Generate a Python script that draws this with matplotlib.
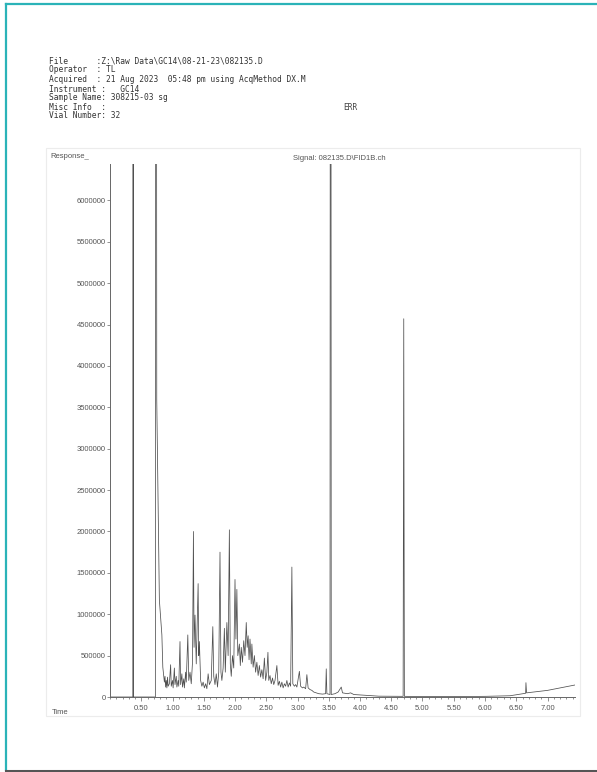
import matplotlib
matplotlib.use("Agg")
import matplotlib.pyplot as plt
from matplotlib.lines import Line2D
from matplotlib.patches import Rectangle

W, H = 597, 772

# chromatogram trace (time in min, response in counts/1000)
time_min = [
    0.00, 0.36, 0.365, 0.37, 0.375, 0.72, 0.726, 0.73, 0.737, 0.748, 0.79, 0.83, 0.845,
    0.855, 0.87, 0.88, 0.89, 0.90, 0.91, 0.92, 0.93, 0.95, 0.97, 0.98, 1.00, 1.01,
    1.03, 1.04, 1.06, 1.07, 1.09, 1.10, 1.12, 1.13, 1.15, 1.16, 1.18, 1.19, 1.21,
    1.22, 1.245, 1.26, 1.28, 1.30, 1.32, 1.335, 1.345, 1.36, 1.38, 1.41, 1.42, 1.43,
    1.45, 1.47, 1.49, 1.51, 1.53, 1.55, 1.57, 1.59, 1.62, 1.645, 1.66, 1.68, 1.70,
    1.72, 1.74, 1.76, 1.775, 1.79, 1.81, 1.83, 1.845, 1.87, 1.89, 1.91, 1.925, 1.94,
    1.96, 1.98, 2.00, 2.015, 2.03, 2.045, 2.07, 2.085, 2.10, 2.12, 2.14, 2.16, 2.18,
    2.195, 2.21, 2.225, 2.24, 2.26, 2.27, 2.29, 2.31, 2.33, 2.35, 2.37, 2.39, 2.41,
    2.43, 2.45, 2.47, 2.49, 2.51, 2.527, 2.54, 2.56, 2.58, 2.60, 2.62, 2.64, 2.67,
    2.69, 2.71, 2.73, 2.75, 2.77, 2.79, 2.81, 2.83, 2.85, 2.87, 2.89, 2.91, 2.925,
    2.95, 2.97, 2.99, 3.03, 3.05, 3.08, 3.10, 3.13, 3.15, 3.17, 3.20, 3.23, 3.26,
    3.30, 3.34, 3.40, 3.45, 3.46, 3.47, 3.52, 3.53, 3.54, 3.60, 3.65, 3.70, 3.72,
    3.80, 3.85, 3.90, 4.00, 4.10, 4.30, 4.69, 4.70, 4.71, 5.00, 5.50, 6.00, 6.40,
    6.60, 6.65, 6.655, 6.665, 7.00, 7.44,
]
response_k = [
    0, 0, 0, 20000, 0, 0, 0, 20000, 20000, 3590, 1170, 750, 360,
    290, 180, 250, 120, 200, 110, 240, 130, 160, 390, 130, 200, 110,
    350, 150, 250, 120, 200, 130, 670, 150, 280, 120, 220, 110, 300,
    180, 750, 200, 300, 160, 420, 2000, 600, 990, 400, 1370, 500, 670,
    200, 130, 180, 110, 160, 100, 280, 150, 200, 850, 250, 150, 280,
    120, 300, 1750, 300, 200, 350, 830, 300, 900, 500, 2020, 400, 250,
    500, 350, 1420, 700, 1300, 500, 640, 380, 600, 420, 680, 500, 900,
    600, 740, 450, 700, 400, 640, 360, 500, 300, 420, 260, 380, 240,
    330, 220, 470, 200, 300, 540, 200, 260, 160, 230, 150, 200, 380,
    140, 190, 120, 180, 110, 160, 130, 200, 120, 170, 130, 1570, 160,
    130, 150, 120, 310, 130, 110, 120, 100, 270, 110, 90, 80, 60,
    50, 40, 35, 40, 340, 40, 30, 20000, 30, 40, 60, 120, 50,
    40, 50, 30, 25, 20, 10, 8, 4570, 8, 5, 5, 8, 15,
    40, 45, 173, 50, 80, 145,
]

y_ticks = [0, 500000, 1000000, 1500000, 2000000, 2500000, 3000000,
           3500000, 4000000, 4500000, 5000000, 5500000, 6000000]
x_ticks = [0.5, 1.0, 1.5, 2.0, 2.5, 3.0, 3.5, 4.0, 4.5, 5.0, 5.5, 6.0, 6.5, 7.0]
x_minor = [i / 10 for i in range(0, 75)]

header = [
    "File      :Z:\\Raw Data\\GC14\\08-21-23\\082135.D",
    "Operator  : TL",
    "Acquired  : 21 Aug 2023  05:48 pm using AcqMethod DX.M",
    "Instrument :   GC14",
    "Sample Name: 308215-03 sg",
    "Misc Info  :",
    "Vial Number: 32",
]
header_y = [61, 70, 80, 89, 97, 107, 115]


def fx(px):
    return px / W


def fy(py):
    return 1 - py / H


fig = plt.figure(figsize=(W / 100, H / 100), dpi=100)
fig.patch.set_facecolor("white")

# page edges of the scan
fig.add_artist(Line2D([fx(6), fx(6)], [fy(4), fy(770)], color="#2bb3b8", lw=1.6))
fig.add_artist(Line2D([fx(6), fx(597)], [fy(4), fy(4)], color="#2bb3b8", lw=1.6))
fig.add_artist(Line2D([fx(6), fx(597)], [fy(770.5), fy(770.5)], color="#555555", lw=2.2))

# faint frame of the printed plot box
fig.add_artist(Rectangle((fx(46), fy(716)), fx(580 - 46), (716 - 148) / H,
                         fill=False, edgecolor="#ececec", lw=0.8))

for line, y in zip(header, header_y):
    fig.text(fx(49), fy(y), line, family="DejaVu Sans Mono", fontsize=5.7,
             color="#333333", va="center", ha="left")
fig.text(fx(343), fy(107), "ERR", family="DejaVu Sans Mono", fontsize=5.7,
         color="#444444", va="center", ha="left")

fig.text(fx(50), fy(156), "Response_", family="Liberation Sans", fontsize=5.5,
         color="#555555", va="center")
fig.text(fx(293), fy(158), "Signal: 082135.D\\FID1B.ch", family="Liberation Sans",
         fontsize=5.5, color="#555555", va="center")
fig.text(fx(52), fy(713), "Time", family="Liberation Sans", fontsize=5.5,
         color="#555555", va="center")

ax = fig.add_axes([fx(110), fy(697), (575 - 110) / W, (697 - 164) / H])
ax.plot(time_min, [v * 1000 for v in response_k], color="#505050", lw=0.55)
ax.set_xlim(0, 7.44)
ax.set_ylim(0, 6.44e6)
for side in ["top", "right"]:
    ax.spines[side].set_visible(False)
for side in ["left", "bottom"]:
    ax.spines[side].set_color("#666666")
    ax.spines[side].set_linewidth(0.7)

ax.set_yticks(y_ticks)
ax.set_yticklabels([str(v) for v in y_ticks])
ax.set_xticks(x_ticks)
ax.set_xticklabels([f"{v:.2f}" for v in x_ticks])
ax.set_xticks(x_minor, minor=True)
ax.tick_params(axis="y", direction="out", length=2, width=0.5, pad=1,
               labelsize=5.5, colors="#666666", labelcolor="#555555")
ax.tick_params(axis="x", which="major", direction="out", length=3, width=0.5, pad=3,
               labelsize=5.5, colors="#666666", labelcolor="#555555")
ax.tick_params(axis="x", which="minor", direction="out", length=1.5, width=0.5,
               colors="#666666")
for lab in ax.get_xticklabels() + ax.get_yticklabels():
    lab.set_family("Liberation Sans")

fig.savefig("out.png", dpi=100)
